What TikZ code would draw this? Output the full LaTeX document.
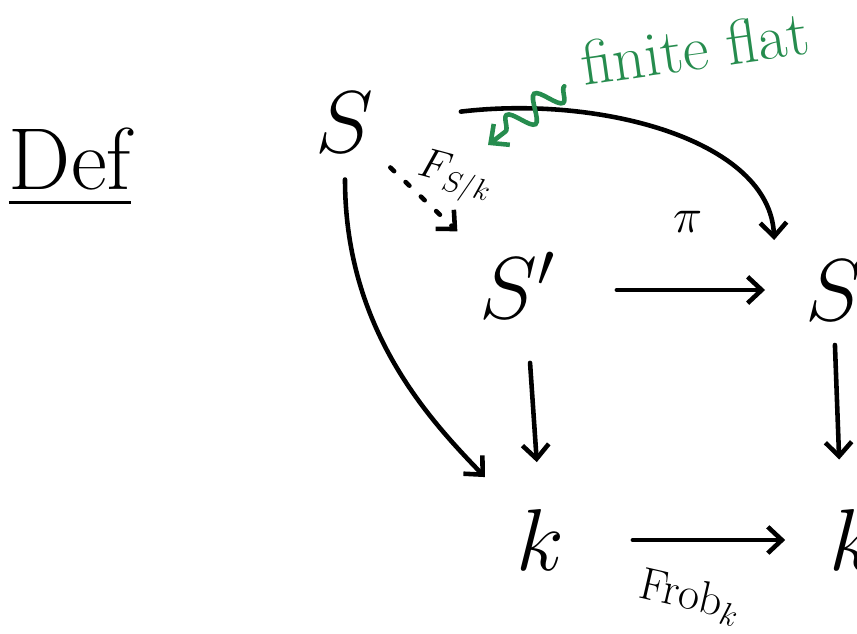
\documentclass[tikz,border=0pt]{standalone}
\usepackage{fix-cm}
\usepackage{amsmath,amssymb}
\usetikzlibrary{arrows.meta,positioning,calc,decorations.pathmorphing}
\definecolor{inkgreen}{RGB}{38,140,78}

\begin{document}
\begin{tikzpicture}[x=0.02cm,y=-0.02cm,
        every node/.style={inner sep=0pt,outer sep=0pt},
        obj/.style={font=\fontsize{50}{60}\selectfont},
        lab/.style={font=\fontsize{28}{34}\selectfont},
        arr/.style={line width=2.6pt,line cap=round,-{Straight Barb[length=8pt,width=15pt]}},
        wavy/.style={arr,inkgreen,decorate,decoration={snake,amplitude=2.5mm,segment length=7mm,post length=4mm}}]

        \useasboundingbox (0,0) rectangle (857,634);

        \node (def) at (70,168) {\fontsize{50}{58}\selectfont\underline{Def}};

        \node[obj] (s)  at (345,122) {$S$};
        \node[obj] (sp) at (517,285) {$S'$};
        \node[obj] (sr) at (834,290) {$S$};
        \node[obj] (kl) at (540,540) {$k$};
        \node[obj] (kr) at (853,540) {$k$};

        \node[lab] (pi) at (688,222) {$\pi$};
        \node[lab,rotate=-15,font=\fontsize{24}{28}\selectfont] (fsk) at (455,178) {$F_{S/k}$};
        \node[lab,rotate=-13,font=\fontsize{26}{30}\selectfont] (frob) at (690,597) {$\mathrm{Frob}_k$};
        \node[inkgreen,rotate=8,font=\fontsize{36}{42}\selectfont] (ff) at (695,48) {finite flat};
        \coordinate (hit) at (488,145);

        \draw[arr,shorten <=1.24cm,shorten >=0.8cm] (sp.east |- sr.west) -- (sr.west);
        \draw[arr,shorten <=1.38cm,shorten >=0.88cm] (kl.east) -- (kr.west);
        \draw[arr,shorten <=0.9cm,shorten >=0.95cm] ([xshift=0.2cm]sp.south) -- (kl.north);
        \draw[arr,shorten <=0.5cm,shorten >=1cm] (sr.south) -- ([xshift=-0.24cm]kr.north);
        \draw[arr,dash pattern=on 3pt off 9pt,shorten <=0.45cm,shorten >=0.6cm] (s.south east) -- (sp.north west);
        \draw[arr,shorten <=0.55cm,shorten >=0.9cm] (s.south) .. controls (345,330) and (430,420) .. (kl.north west);
        \draw[arr,shorten <=1.75cm,shorten >=0.4cm] (s.east) .. controls (600,95) and (770,140) .. ([xshift=-0.6cm]sr.north west);
        \draw[wavy] ([xshift=-0.4cm]ff.south west) -- (hit);
\end{tikzpicture}
\end{document}
